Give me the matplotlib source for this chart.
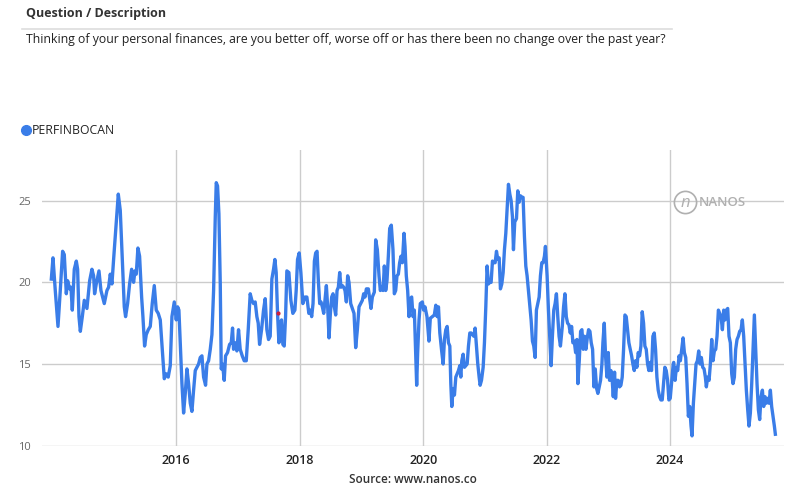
import matplotlib
matplotlib.use("Agg")
import matplotlib.pyplot as plt
from matplotlib.lines import Line2D

# weekly index (decimal year, value)
years = [
    2013.976, 2014.003, 2014.040, 2014.084, 2014.121, 2014.159, 2014.186, 2014.219, 2014.240, 2014.273,
    2014.294, 2014.316, 2014.348, 2014.381, 2014.402, 2014.424, 2014.446, 2014.478, 2014.510, 2014.553,
    2014.597, 2014.634, 2014.661, 2014.677, 2014.704, 2014.748, 2014.780, 2014.834, 2014.877, 2014.904,
    2014.931, 2014.958, 2014.985, 2015.023, 2015.061, 2015.093, 2015.126, 2015.158, 2015.179, 2015.212,
    2015.244, 2015.277, 2015.309, 2015.331, 2015.352, 2015.379, 2015.406, 2015.439, 2015.460, 2015.487,
    2015.514, 2015.547, 2015.579, 2015.611, 2015.644, 2015.676, 2015.708, 2015.741, 2015.773, 2015.806,
    2015.838, 2015.870, 2015.903,
    2015.930, 2015.968, 2016.000, 2016.022, 2016.043, 2016.065, 2016.092, 2016.119, 2016.146, 2016.173,
    2016.200, 2016.227, 2016.254, 2016.281, 2016.308, 2016.335, 2016.362, 2016.389, 2016.416, 2016.443,
    2016.475, 2016.497, 2016.524, 2016.551, 2016.578, 2016.605, 2016.632, 2016.648, 2016.669, 2016.691,
    2016.713, 2016.729, 2016.750, 2016.777, 2016.799, 2016.831, 2016.864, 2016.891, 2016.912, 2016.928,
    2016.955, 2016.982, 2017.009, 2017.036, 2017.069, 2017.101, 2017.134, 2017.166, 2017.198, 2017.225,
    2017.252, 2017.279, 2017.306, 2017.328, 2017.350, 2017.382, 2017.414, 2017.441, 2017.468, 2017.495,
    2017.522, 2017.549, 2017.576, 2017.598, 2017.619, 2017.641, 2017.663, 2017.684, 2017.706, 2017.727,
    2017.749, 2017.771, 2017.792, 2017.825, 2017.857, 2017.889, 2017.922, 2017.943, 2017.965, 2017.992,
    2018.019, 2018.051, 2018.084, 2018.116, 2018.148,
    2018.173, 2018.194, 2018.216, 2018.238, 2018.259, 2018.281, 2018.302, 2018.324, 2018.345, 2018.367,
    2018.389, 2018.410, 2018.432, 2018.453, 2018.475, 2018.497, 2018.518, 2018.540, 2018.561, 2018.583,
    2018.605, 2018.626, 2018.648, 2018.669, 2018.691, 2018.713, 2018.734, 2018.756, 2018.777, 2018.799,
    2018.826, 2018.853, 2018.880, 2018.907, 2018.934, 2018.961, 2018.988, 2019.015, 2019.036, 2019.058,
    2019.080, 2019.112, 2019.134, 2019.155, 2019.177, 2019.209, 2019.231, 2019.258, 2019.285, 2019.306,
    2019.328, 2019.350, 2019.371, 2019.393, 2019.414, 2019.436, 2019.458, 2019.484, 2019.511, 2019.533,
    2019.555, 2019.576, 2019.598, 2019.619, 2019.641, 2019.663, 2019.690, 2019.706, 2019.727, 2019.749,
    2019.771, 2019.792, 2019.814, 2019.836, 2019.857, 2019.879, 2019.895, 2019.911, 2019.933, 2019.954,
    2019.987, 2020.008, 2020.030, 2020.062, 2020.094, 2020.116, 2020.148, 2020.181,
    2020.205, 2020.227, 2020.248, 2020.270, 2020.297, 2020.324, 2020.345, 2020.367, 2020.389, 2020.410,
    2020.432, 2020.448, 2020.464, 2020.486, 2020.507, 2020.529, 2020.551, 2020.572, 2020.594, 2020.610,
    2020.626, 2020.648, 2020.669, 2020.691, 2020.713, 2020.734, 2020.756, 2020.777, 2020.799, 2020.821,
    2020.842, 2020.864, 2020.885, 2020.907, 2020.923, 2020.945, 2020.972, 2020.993, 2021.015, 2021.036,
    2021.058, 2021.080, 2021.101, 2021.123, 2021.144, 2021.166, 2021.188, 2021.209, 2021.231, 2021.252,
    2021.274, 2021.296, 2021.317, 2021.339, 2021.360, 2021.382, 2021.404, 2021.425, 2021.447, 2021.463,
    2021.484, 2021.512, 2021.533, 2021.555, 2021.576, 2021.598, 2021.619, 2021.641, 2021.663, 2021.684,
    2021.706, 2021.727, 2021.749, 2021.771, 2021.792, 2021.814, 2021.835, 2021.857, 2021.879, 2021.900,
    2021.922, 2021.943, 2021.965, 2021.981, 2022.008, 2022.030, 2022.051, 2022.073, 2022.094, 2022.116,
    2022.138, 2022.159, 2022.181, 2022.202, 2022.224,
    2022.254, 2022.275, 2022.297, 2022.319, 2022.340, 2022.362, 2022.383, 2022.405, 2022.426, 2022.448,
    2022.470, 2022.491, 2022.507, 2022.529, 2022.551, 2022.572, 2022.594, 2022.615, 2022.637, 2022.659,
    2022.680, 2022.702, 2022.723, 2022.745, 2022.767, 2022.788, 2022.810, 2022.831, 2022.853, 2022.874,
    2022.896, 2022.912, 2022.934, 2022.955, 2022.977, 2022.999, 2023.020, 2023.042, 2023.063, 2023.080,
    2023.101, 2023.117, 2023.139, 2023.161, 2023.182, 2023.204, 2023.225, 2023.247, 2023.269, 2023.290,
    2023.312, 2023.333, 2023.355, 2023.377, 2023.398, 2023.420, 2023.441, 2023.463, 2023.484, 2023.506,
    2023.528, 2023.549, 2023.571, 2023.592, 2023.614, 2023.636, 2023.657, 2023.679, 2023.700, 2023.722,
    2023.744, 2023.765, 2023.787, 2023.808, 2023.830, 2023.852, 2023.873, 2023.895, 2023.916, 2023.938,
    2023.960, 2023.981, 2024.003, 2024.024, 2024.051,
    2024.059, 2024.081, 2024.103, 2024.124, 2024.146, 2024.167, 2024.189, 2024.211, 2024.232, 2024.254,
    2024.275, 2024.297, 2024.318, 2024.340, 2024.356, 2024.378, 2024.399, 2024.421, 2024.443, 2024.464,
    2024.486, 2024.507, 2024.529, 2024.551, 2024.572, 2024.588, 2024.610, 2024.632, 2024.653, 2024.675,
    2024.696, 2024.718, 2024.740, 2024.761, 2024.783, 2024.804, 2024.826, 2024.848, 2024.869, 2024.891,
    2024.912, 2024.934, 2024.955, 2024.977, 2024.999, 2025.020, 2025.042, 2025.063, 2025.085, 2025.107,
    2025.128, 2025.150, 2025.171, 2025.193, 2025.215, 2025.236, 2025.258, 2025.279, 2025.301, 2025.323,
    2025.344, 2025.366, 2025.388, 2025.409, 2025.431, 2025.452, 2025.474, 2025.496, 2025.517, 2025.539,
    2025.560, 2025.582, 2025.603, 2025.625, 2025.646, 2025.668, 2025.690, 2025.706,
]

values = [
    20.2, 21.5, 19.5, 17.3, 19.5, 21.9, 21.7, 19.3, 20.1, 19.6,
    19.7, 18.3, 20.8, 21.3, 20.8, 17.9, 17.0, 17.9, 18.9, 18.4,
    20.1, 20.8, 20.4, 19.3, 19.9, 20.7, 19.5, 18.7, 19.5, 19.7,
    20.5, 19.9, 21.4, 23.4, 25.4, 24.4, 21.4, 18.5, 17.9, 18.7,
    19.9, 20.8, 20.0, 20.7, 20.5, 22.1, 21.6, 19.1, 17.9, 16.1,
    16.8, 17.1, 17.3, 18.7, 19.8, 18.3, 18.1, 17.7, 15.9, 14.1,
    14.4, 14.2, 14.9,
    17.9, 18.8, 17.7, 18.5, 18.3, 16.3, 13.8, 12.0, 13.2, 14.7,
    13.8, 12.6, 12.1, 13.4, 14.6, 14.8, 15.0, 15.4, 15.5, 14.2,
    13.7, 15.0, 15.2, 15.9, 16.8, 19.5, 24.0, 26.1, 25.9, 24.2,
    19.9, 14.7, 15.0, 14.0, 15.5, 15.7, 16.2, 16.3, 17.2, 15.9,
    16.3, 15.8, 17.1, 15.9, 15.5, 15.2, 15.2, 17.1, 19.3, 18.9,
    18.7, 18.8, 17.9, 17.5, 16.2, 17.1, 18.3, 19.0, 17.1, 16.5,
    16.7, 20.2, 20.8, 21.4, 20.6, 18.1, 16.3, 17.5, 17.7, 16.2,
    16.1, 17.9, 20.7, 20.6, 18.9, 18.1, 18.3, 19.5, 21.4, 21.8,
    20.6, 18.7, 19.1, 19.1, 18.1,
    18.3, 17.9, 18.7, 21.3, 21.8, 21.9, 20.1, 18.7, 18.8, 18.5,
    18.1, 18.9, 19.8, 18.5, 16.6, 18.1, 19.1, 19.3, 18.5, 18.0,
    19.5, 19.7, 20.6, 19.7, 19.8, 19.7, 19.5, 18.8, 20.4, 20.0,
    18.7, 18.4, 18.1, 16.0, 17.1, 18.5, 18.7, 18.9, 19.3, 19.1,
    19.6, 19.6, 19.0, 18.4, 19.1, 19.4, 22.6, 22.0, 20.4, 19.5,
    19.7, 19.5, 21.0, 19.5, 20.1, 21.6, 23.3, 23.5, 22.0, 19.3,
    19.5, 20.4, 20.5, 21.2, 21.6, 21.2, 23.0, 22.2, 20.4, 19.5,
    17.9, 19.0, 19.1, 17.9, 18.3, 15.7, 13.7, 15.7, 17.7, 18.7,
    18.8, 18.3, 18.5, 17.9, 16.4, 17.8, 17.9, 18.0,
    18.6, 17.9, 18.5, 16.9, 15.9, 15.0, 16.5, 17.1, 17.3, 16.3,
    16.1, 13.8, 12.4, 13.5, 13.1, 14.2, 14.4, 14.6, 14.9, 14.2,
    15.2, 15.6, 14.8, 14.9, 15.0, 16.1, 16.9, 16.9, 16.8, 16.7,
    17.2, 16.1, 15.0, 14.2, 13.7, 14.0, 14.8, 16.3, 18.5, 21.0,
    19.9, 20.0, 20.0, 21.3, 21.2, 21.2, 21.9, 21.4, 21.5, 19.6,
    19.9, 20.6, 22.0, 23.0, 24.5, 26.0, 25.4, 25.0, 24.0, 22.0,
    23.7, 23.9, 25.6, 24.9, 25.3, 25.2, 25.2, 22.8, 21.0, 20.4,
    19.5, 18.7, 17.7, 16.4, 16.1, 15.4, 18.3, 18.7, 19.1, 20.4,
    21.2, 21.2, 21.6, 22.2, 20.4, 18.3, 16.7, 14.9, 16.7, 18.3,
    18.7, 19.3, 17.9, 16.7, 16.1,
    17.3, 18.5, 19.3, 17.9, 17.5, 17.4, 16.9, 17.3, 16.3, 16.4,
    15.7, 16.5, 13.8, 15.2, 17.0, 17.1, 15.9, 16.7, 15.9, 16.6,
    17.1, 17.0, 16.3, 15.9, 13.6, 14.7, 13.5, 13.2, 13.6, 14.0,
    15.0, 16.3, 17.5, 15.5, 14.2, 15.7, 14.0, 14.6, 14.0, 13.0,
    14.5, 12.9, 14.0, 14.0, 13.6, 13.7, 14.2, 15.9, 18.0, 17.9,
    17.1, 16.3, 15.9, 15.5, 15.0, 14.6, 15.2, 14.8, 15.7, 15.5,
    16.1, 18.2, 17.5, 16.1, 15.9, 15.0, 14.6, 15.1, 14.6, 16.7,
    16.9, 15.9, 14.2, 13.4, 13.0, 12.8, 12.8, 13.8, 14.8, 14.6,
    14.0, 12.8, 12.9, 13.8, 15.0,
    15.1, 14.0, 14.8, 14.6, 15.5, 15.2, 15.9, 16.6, 15.7, 15.4,
    13.8, 11.8, 12.4, 11.2, 10.6, 12.6, 13.8, 15.0, 15.2, 15.8,
    15.0, 15.4, 14.8, 14.7, 14.2, 13.6, 14.2, 14.0, 15.0, 16.5,
    15.2, 15.8, 15.9, 16.7, 18.3, 18.1, 17.9, 17.1, 18.3, 17.7,
    18.3, 18.4, 16.7, 16.3, 14.4, 13.8, 14.2, 15.9, 16.5, 16.7,
    17.0, 17.1, 17.7, 16.7, 15.0, 13.4, 12.2, 11.2, 12.0, 13.8,
    15.9, 18.0, 15.9, 13.8, 12.2, 11.6, 13.0, 13.4, 12.4, 13.0,
    12.6, 12.9, 12.6, 13.4, 12.4, 11.8, 11.2, 10.7,
]

# stray red point on the source chart
marker_year = [2017.646]
marker_value = [18.1]

year_ticks = [2016, 2018, 2020, 2022, 2024]
value_ticks = [10, 15, 20, 25]

line_color = "#3a7de8"
grid_color = "#cccccc"
plt.rcParams["font.family"] = ["Open Sans", "DejaVu Sans"]

fig = plt.figure(figsize=(8, 4.98), dpi=100)
ax = fig.add_axes([42 / 800, 1 - 445.7 / 498, 742 / 800, 295.7 / 498])

ax.plot(years, values, color=line_color, lw=2.4, solid_joinstyle="round", zorder=3)
ax.scatter(marker_year, marker_value, s=4, color="#d0203a", zorder=4)

ax.set_xlim(2013.825, 2025.846)
ax.set_ylim(10, 28.1)
ax.set_xticks(year_ticks)
ax.set_xticklabels([str(y) for y in year_ticks], fontsize=9, fontweight="semibold", color="#222222")
ax.set_yticks(value_ticks)
ax.set_yticklabels([str(v) for v in value_ticks], fontsize=8, color="#666666")
ax.tick_params(length=0, pad=8)
ax.tick_params(axis="x", pad=6)
ax.grid(True, color=grid_color, lw=1)
ax.set_axisbelow(True)
for s in ax.spines.values():
    s.set_visible(False)

# header
fig.text(26 / 800, 1 - 14 / 498, "Question / Description", fontsize=9, fontweight="bold",
         color="#333333", va="center")
fig.add_artist(Line2D([22 / 800, 672 / 800], [1 - 29 / 498, 1 - 29 / 498],
                      color="#dddddd", lw=1.2))
fig.text(26 / 800, 1 - 40 / 498,
         "Thinking of your personal finances, are you better off, worse off or has there been no change over the past year?",
         fontsize=8.8, color="#222222", va="center")

# legend
fig.add_artist(Line2D([26 / 800], [1 - 130 / 498], marker="o", markersize=7,
                      color=line_color, lw=0))
fig.text(32 / 800, 1 - 130 / 498, "PERFINBOCAN", fontsize=8.8, color="#222222", va="center")

# watermark
fig.add_artist(Line2D([685 / 800], [1 - 202 / 498], marker="o", markersize=16,
                      markerfacecolor="none", markeredgecolor="#b0b0b0", markeredgewidth=1.2, lw=0))
fig.text(685 / 800, 1 - 203 / 498, "n", fontsize=12, style="italic", color="#b0b0b0",
         ha="center", va="center")
fig.text(699 / 800, 1 - 202 / 498, "NANOS", fontsize=9.5, fontweight="semibold", color="#b0b0b0",
         va="center")

fig.text(413 / 800, 1 - 479 / 498, "Source: www.nanos.co", fontsize=8.5, fontweight="semibold",
         color="#333333", ha="center", va="center")

fig.savefig("out.png", dpi=100)
